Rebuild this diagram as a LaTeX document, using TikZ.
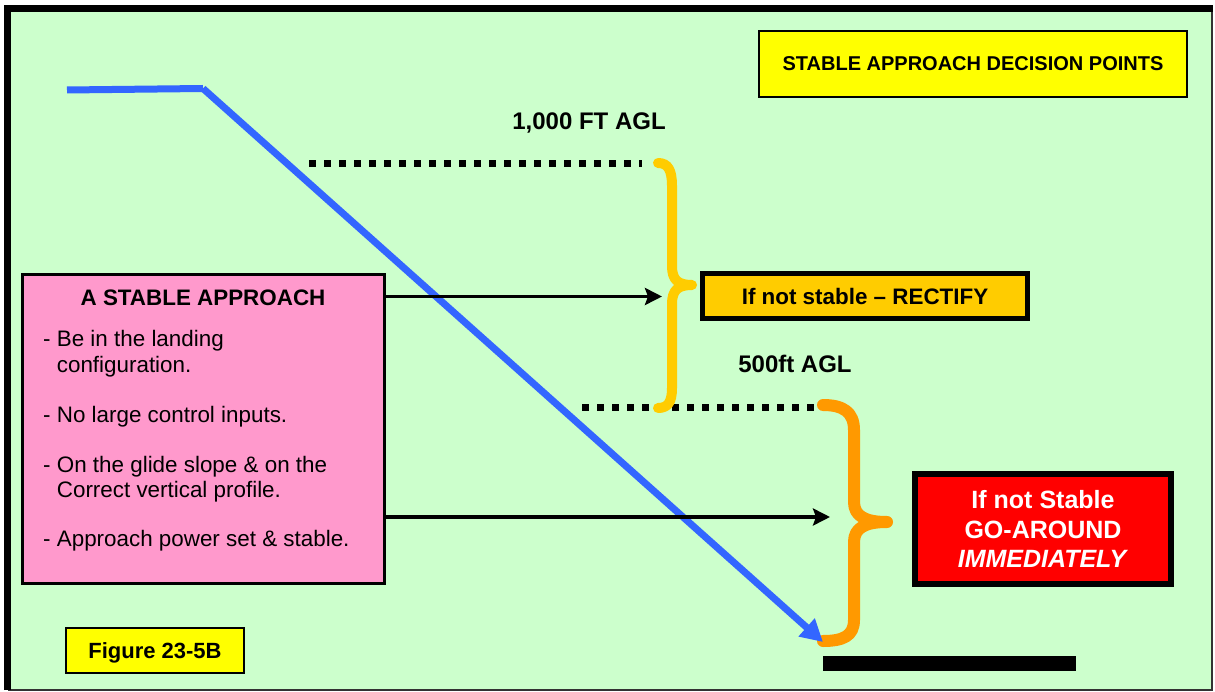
\documentclass[tikz,border=0pt]{standalone}
\usepackage{fontspec}
\setmainfont{Liberation Sans}
\usepackage{xcolor}
\usetikzlibrary{arrows.meta,positioning,calc}

\definecolor{bggreen}{HTML}{CCFFCC}
\definecolor{boxpink}{HTML}{FF99CC}
\definecolor{boxyellow}{HTML}{FFFF00}
\definecolor{boxgold}{HTML}{FFCC00}
\definecolor{braceorange}{HTML}{FF9900}
\definecolor{pathblue}{HTML}{3366FF}

\begin{document}
\begin{tikzpicture}[x=1pt, y=-1pt,
  flow/.style={-{Stealth[length=17pt,width=17pt,inset=3pt]}, line width=3.5pt},
  glide/.style={-{Triangle[length=22pt,width=23pt]}, draw=pathblue, line width=7pt, line join=miter},
  gate/.style={line width=7pt, dash pattern=on 7pt off 8pt},
  brace/.style={line width=#1, line cap=round, line join=round},
  tagbox/.style={draw, fill=boxyellow, line width=1.4pt, inner sep=0pt, font=\fontsize{20}{24}\selectfont\bfseries},
  alertbox/.style={draw, line width=5pt, inner sep=0pt, align=center},
  lvl/.style={anchor=base, font=\fontsize{24}{28}\selectfont\bfseries},
  bodytxt/.style={anchor=base west, inner sep=0pt, font=\fontsize{22.4}{26}\selectfont}
]
  \useasboundingbox (0,0) rectangle (1215,692);

  % --- FONDO Y MARCO ---
  \fill[bggreen] (8,8.5) rectangle (1212,690);
  \draw[line width=1.5pt, draw=black!80] (1212,8.5) -- (1212,690) -- (8,690);
  \draw[line width=7pt] (7.5,690) -- (7.5,8.5) -- (1213,8.5);

  % --- CAJAS Y TEXTOS ---
  \node[tagbox, minimum width=428pt, minimum height=66pt] (title) at (973,64) {STABLE APPROACH DECISION POINTS};
  \node[tagbox, minimum width=178pt, minimum height=45pt, text depth=0pt, font=\fontsize{22}{26}\selectfont\bfseries] (fig) at (155,650.5) {Figure 23-5B};

  \node[lvl] (thousand) at (589,130) {1,000 FT AGL};
  \node[lvl] (fivehundred) at (795,373) {500ft AGL};

  \node[alertbox, fill=boxgold, minimum width=325pt, minimum height=45pt, font=\fontsize{22.4}{26}\selectfont\bfseries] (rectify) at (865,296.5) {If not stable -- RECTIFY};
  \node[alertbox, fill=red, text=white, line width=5.5pt, minimum width=256pt, minimum height=110pt, font=\fontsize{25}{29.5}\selectfont\bfseries] (goaround) at (1043,529) {If not Stable\\GO-AROUND\\\textit{IMMEDIATELY}};

  % Caja rosa con los criterios
  \node[draw, fill=boxpink, line width=3pt, minimum width=362pt, minimum height=309pt, inner sep=0pt] (approach) at (203.75,429) {};
  \node[anchor=base, inner sep=0pt, font=\fontsize{22.4}{26}\selectfont\bfseries] (approachtitle) at (203,306) {A STABLE APPROACH};
  \foreach \y/\t [count=\i] in {347/{- Be in the landing}, 373/{\phantom{- }configuration.},
      422/{- No large control inputs.}, 472/{- On the glide slope \& on the},
      497/{\phantom{- }Correct vertical profile.}, 546/{- Approach power set \& stable.}}
    \node[bodytxt] (crit\i) at (43,\y) {\t};

  % --- PUNTOS DE DECISION ---
  \coordinate (g1a) at (309,163.5);
  \coordinate (g1b) at (642,163.5);
  \coordinate (g2a) at (582,407);
  \coordinate (g2b) at (820,407);
  \draw[gate] (g1a) -- (g1b);
  \draw[gate] (g2a) -- (g2b);

  % Llaves amarilla y naranja
  \draw[brace=10pt, draw=boxgold] (658,163) .. controls (668,163) and (672,170) .. (672,186)
    -- (672,266) .. controls (672,280) and (678,285) .. (692,285)
    .. controls (678,285) and (672,290) .. (672,304)
    -- (672,388) .. controls (672,402) and (668,408) .. (658,408);
  \draw[brace=12pt, draw=braceorange] (823,405) .. controls (843,405) and (854,412) .. (854,430)
    -- (854,502) .. controls (854,516) and (865,522) .. (887,522)
    .. controls (865,522) and (854,528) .. (854,542)
    -- (854,620) .. controls (854,636) and (843,641) .. (823,641);

  % Pista
  \node[fill=black, minimum width=253pt, minimum height=15pt, inner sep=0pt] (runway) at (949.5,663.5) {};

  % --- TRAYECTORIA Y FLECHAS ---
  \coordinate (start) at (67,90);
  \coordinate (bend) at (203,88.5);
  \coordinate (touch) at (823,642);
  \draw[pathblue, line width=7pt] (start) -- (bend);
  \draw[glide] (bend) -- (touch);

  \coordinate (to1k) at (662,296.5);
  \coordinate (to500) at (830,517);
  \draw[flow] (approach.east |- to1k) -- (to1k);
  \draw[flow] (approach.east |- to500) -- (to500);

\end{tikzpicture}
\end{document}
